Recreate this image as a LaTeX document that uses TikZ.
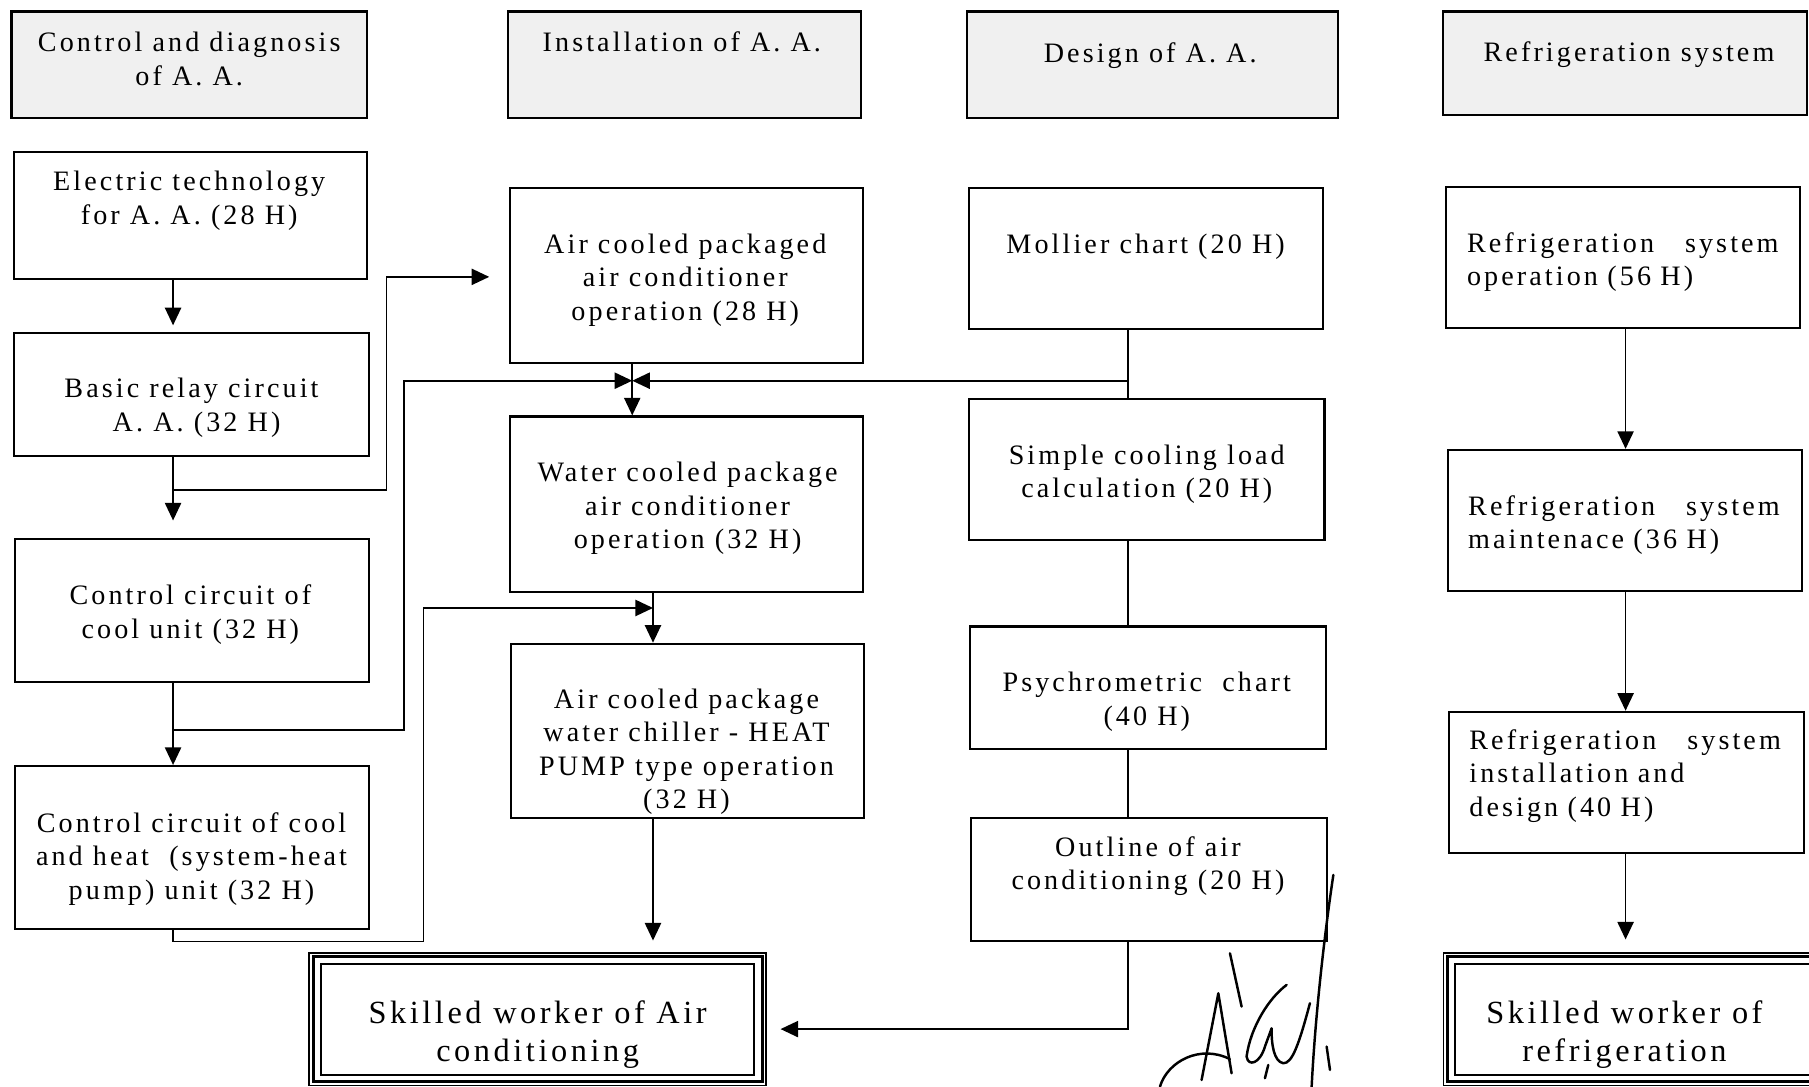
\documentclass[tikz,border=0pt]{standalone}
\usepackage{fontspec}
\setmainfont{Liberation Serif}[LetterSpace=11]
\usetikzlibrary{arrows.meta,fit,calc}

\begin{document}
\begin{tikzpicture}[x=0.011537cm,y=-0.011537cm,
  box/.style={draw, line width=0.6pt, inner sep=0pt},
  hdr/.style={box, fill=black!6},
  txt/.style={align=center, inner sep=0pt, yshift=-0.85pt, font=\fontsize{8}{9.52}\selectfont},
  ltxt/.style={txt, align=left, anchor=west, text width=3.115cm},
  bigtxt/.style={align=center, inner sep=0pt, yshift=-1pt, font=\fontsize{9.2}{10.9}\selectfont},
  wire/.style={line width=0.5pt},
  arr/.style={wire, -{Triangle[length=5pt,width=4.6pt]}},
  frame/.style={draw, line width=0.45pt, inner sep=0pt},
  sig/.style={line width=0.7pt, line cap=round, line join=round}]

\useasboundingbox (0,0) rectangle (1568,942);

% ---------- column headings ----------
\node[hdr, fit={(10,10) (318,102)}] (h1) {};
\node[hdr, fit={(440,10) (746,102)}] (h2) {};
\node[hdr, fit={(838,10) (1160,102)}] (h3) {};
\node[hdr, fit={(1251,10) (1566,100)}] (h4) {};
\node[txt] (h1t) at (164,48.5) {Control and diagnosis\\of A. A.};
\node[txt] (h2t) at (591,34) {Installation of A. A.};
\node[txt] (h3t) at (997,46) {Design of A. A.};
\node[txt] (h4t) at (1412,45) {Refrigeration system};

% ---------- column 1: control ----------
\node[box, fit={(12,132) (318,242)}] (elec) {};
\node[box, fit={(12,289) (320,395)}] (relay) {};
\node[box, fit={(13,467) (320,591)}] (cool) {};
\node[box, fit={(13,664) (320,805)}] (heat) {};
\node[txt] (elect) at (164,171.5) {Electric technology\\for A. A. (28 H)};
\node[txt] (relayt) at (166,351) {Basic relay circuit\\~A. A. (32 H)};
\node[txt] (coolt) at (165,530) {Control circuit of\\cool unit (32 H)};
\node[txt] (heatt) at (166,742) {Control circuit of cool\\and heat~~(system-heat\\pump) unit (32 H)};

% ---------- column 2: installation ----------
\node[box, fit={(442,163) (748,315)}] (acp) {};
\node[box, fit={(442,361) (748,513)}] (wcp) {};
\node[box, fit={(443,558) (749,709)}] (chill) {};
\node[txt] (acpt) at (594,240) {Air cooled packaged\\air conditioner\\operation (28 H)};
\node[txt] (wcpt) at (596,438) {Water cooled package\\air conditioner\\operation (32 H)};
\node[txt] (chillt) at (595,649) {Air cooled package\\water chiller - HEAT\\PUMP type operation\\(32 H)};

% skilled worker, framed by a triple border
\node[frame, fit={(268,826) (664,941)}] (skac) {};
\draw[line width=0.85pt] ([shift={(4,4)}]skac.north west) rectangle ([shift={(-4,-4)}]skac.south east);
\draw[line width=0.55pt] ([shift={(11,10)}]skac.north west) rectangle ([shift={(-11,-10)}]skac.south east);
\node[bigtxt] (skact) at (466,893.5) {Skilled worker of Air\\conditioning};

% ---------- column 3: design ----------
\node[box, fit={(840,163) (1147,285)}] (mol) {};
\node[box, fit={(840,346) (1148,468)}] (simple) {};
\node[box, fit={(841,543) (1149,649)}] (psy) {};
\node[box, fit={(842,709) (1150,816)}] (outl) {};
\node[txt] (molt) at (993,211) {Mollier chart (20 H)};
\node[txt] (simplet) at (994,408.5) {Simple cooling load\\calculation (20 H)};
\node[txt] (psyt) at (994,605.5) {Psychrometric~~chart\\(40 H)};
\node[txt] (outlt) at (995,748) {Outline of air\\conditioning (20 H)};

% ---------- column 4: refrigeration ----------
\node[box, fit={(1253,162) (1560,284)}] (rop) {};
\node[box, fit={(1255,390) (1562,512)}] (rmt) {};
\node[box, fit={(1256,617) (1564,739)}] (rin) {};
\node[ltxt] (ropt) at (1271,224.5) {Refrigeration\hfill system\\operation (56 H)};
\node[ltxt] (rmtt) at (1272,452.5) {Refrigeration\hfill system\\maintenace (36 H)};
\node[ltxt] (rint) at (1273,670) {Refrigeration\hfill system\\installation and\\design (40 H)};

\node[frame, fit={(1251,826) (1580,941)}] (skrf) {};
\draw[line width=0.85pt] ([shift={(4,4)}]skrf.north west) rectangle ([shift={(-4,-4)}]skrf.south east);
\draw[line width=0.55pt] ([shift={(11,10)}]skrf.north west) rectangle ([shift={(-11,-10)}]skrf.south east);
\node[bigtxt] (skrft) at (1408,893.5) {Skilled worker of\\refrigeration};

% ---------- routing coordinates ----------
\coordinate (ca) at (150,0);
\coordinate (xb) at (548,0);
\coordinate (xd) at (566,0);
\coordinate (xc) at (978,0);
\coordinate (xe) at (1409,0);
\coordinate (j1) at (150,425);
\coordinate (k1) at (335,240);
\coordinate (j2) at (150,633);
\coordinate (k2) at (350,330);
\coordinate (k3a) at (367,816);
\coordinate (k3b) at (367,527);
\coordinate (k4) at (978,892);

% ---------- connectors ----------
\draw[arr, shorten >=2pt] (elec.south -| ca) -- (relay.north -| ca);
\draw[arr, shorten >=4.9pt] (relay.south -| ca) -- (cool.north -| ca);
\draw[arr] (cool.south -| ca) -- (heat.north -| ca);
\draw[arr, shorten >=5.6pt] (j1) -| (k1) -- (k1 -| acp.west);
\draw[arr] (j2) -| (k2) -- (k2 -| xb);
\draw[arr] (heat.south -| ca) |- (k3a) -- (k3b) -- (k3b -| xd);

\draw[arr] (acp.south -| xb) -- (wcp.north -| xb);
\draw[arr] (wcp.south -| xd) -- (chill.north -| xd);
\draw[arr, shorten >=3.3pt] (chill.south -| xd) -- (skac.north -| xd);

\draw[wire] (mol.south -| xc) -- (simple.north -| xc);
\draw[arr] (xc |- k2) -- (k2 -| xb);
\draw[wire] (simple.south -| xc) -- (psy.north -| xc);
\draw[wire] (psy.south -| xc) -- (outl.north -| xc);
\draw[arr, shorten >=3.9pt] (outl.south -| xc) -- (k4) -- (k4 -| skac.east);

\draw[arr] (rop.south -| xe) -- (rmt.north -| xe);
\draw[arr] (rmt.south -| xe) -- (rin.north -| xe);
\draw[arr, shorten >=3.6pt] (rin.south -| xe) -- (skrf.north -| xe);

% ---------- signature ----------
\draw[sig] (1155.7,758.4) .. controls (1148,810) and (1140,880) .. (1136.9,942);
\draw[sig] (1066.1,826.3) -- (1076.2,872.5);
\draw[sig] (1005.4,941.9) .. controls (1012,920) and (1040,905) .. (1066,918);
\draw[sig] (1041.5,936.1) -- (1056,861) -- (1067.5,930.3);
\draw[sig] (1115.2,853.7) .. controls (1100,865) and (1084,890) .. (1080.5,915.8)
  .. controls (1082,925) and (1092,922) .. (1096.4,907.2) -- (1102.2,891.3)
  .. controls (1102,905) and (1104,920) .. (1112.3,921.6)
  .. controls (1120,922) and (1126,905) .. (1135.4,869.6);
\draw[sig] (1099.3,923.1) -- (1096.4,934.6);
\draw[sig] (1149.9,907.2) -- (1152.8,927.4);
\end{tikzpicture}
\end{document}
